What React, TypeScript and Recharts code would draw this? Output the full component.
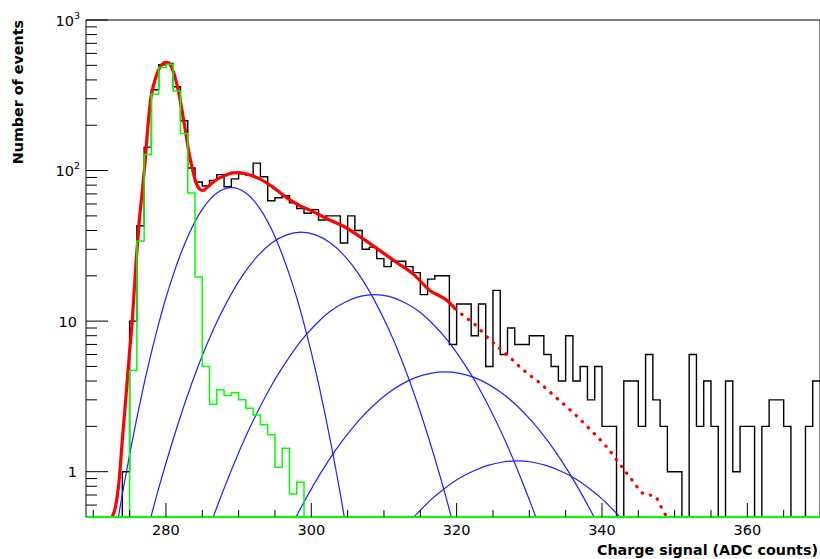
import React from "react";
import { LineChart, Line, XAxis, YAxis, ReferenceLine } from "recharts";

// binning: one ADC count per bin
const binLow = 269;
const binHigh = 370;
const yMin = 0.5;
const yMax = 1000;

// measured events per bin, bins 269..369
const dataCounts = [
  0, 0, 0, 0, 0, 1, 10, 43, 143, 344,
  504, 514, 360, 214, 104, 84, 79, 86, 94, 78,
  88, 95, 93, 112, 91, 63, 66, 68, 61, 56,
  52, 55, 47, 50, 50, 33, 50, 40, 30, 31,
  26, 23, 25, 25, 23, 21, 15, 19, 20, 20,
  7, 13, 13, 8, 13, 5, 16, 6, 9, 7,
  7, 8, 8, 6, 5, 4, 8, 4, 5, 3,
  5, 2, 2, 0, 4, 4, 2, 6, 3, 2,
  1, 1, 0, 6, 2, 4, 2, 0, 4, 1,
  2, 2, 0, 2, 3, 3, 2, 0, 0, 2,
  4,
];

// pedestal template, bins 269..298 (empty after)
const pedestalCounts = [
  0, 0, 0, 0, 0, 0, 4.7, 34, 128, 322,
  483, 509, 338, 176, 71, 19.6, 5.0, 2.8, 3.5, 3.2,
  3.35, 3.0, 2.64, 2.38, 2.05, 1.76, 1.07, 1.43, 0.71, 0.85,
];

// total fit, solid inside the fit range, dotted beyond it
const fitSolid: [number, number][] = [
  [272.6, 0.5], [273.1, 0.6], [273.56, 0.88], [274.0, 1.63], [274.5, 3.15],
  [274.94, 5.8], [275.4, 10.7], [275.9, 25], [276.3, 44.5], [276.8, 77.6],
  [277.1, 110], [277.5, 193], [277.9, 298], [278.4, 385], [278.85, 448],
  [279.5, 509], [280.0, 523], [280.45, 516], [280.9, 470], [281.4, 393],
  [281.8, 322], [282.3, 237], [282.75, 175], [283.2, 129], [283.7, 100],
  [284.1, 84], [284.6, 75.6], [285.05, 73.7], [285.5, 76], [286.4, 83],
  [287.3, 89], [288.2, 93], [289.2, 96.4], [290.1, 97], [291.0, 95],
  [292.9, 88], [294.7, 77.6], [296.5, 66.6], [298.4, 58.5], [300.2, 53.5],
  [302.3, 47.5], [304.5, 42.5], [307.1, 35.3], [309.4, 29.5], [311.7, 24.6],
  [314.0, 20.6], [316.3, 16], [318.6, 13.8], [319.8, 12.1],
];
const fitDotted: [number, number][] = [
  [319.8, 12.1], [320.9, 10.9], [322.3, 9.7], [324.6, 7.5], [326.9, 6.0],
  [329.2, 4.73], [331.5, 3.86], [333.8, 3.07], [336.1, 2.45], [338.4, 1.9],
  [340.6, 1.47], [342.9, 1.05], [344.3, 0.86], [345.6, 0.72], [346.5, 0.7],
  [347.3, 0.69], [348.0, 0.6], [349.1, 0.48], [349.8, 0.42],
];

// n photo-electron components
const pe1: [number, number][] = [
  [272, 0.19], [273, 0.37], [274, 0.71], [275, 1.3], [276, 2.28], [277, 3.84],
  [278, 6.2], [279, 9.6], [280, 14.3], [281, 20.3], [282, 27.7], [283, 36.4],
  [284, 45.8], [285, 55.2], [286, 63.8], [287, 70.9], [288, 75.4], [289, 77],
  [290, 75.4], [291, 70.9], [292, 63.8], [293, 55.2], [294, 45.8], [295, 36.4],
  [296, 27.7], [297, 20.3], [298, 14.3], [299, 9.6], [300, 6.2], [301, 3.84],
  [302, 2.28], [303, 1.3], [304, 0.71], [305, 0.37], [306, 0.19],
];
const pe2: [number, number][] = [
  [276.6, 0.28], [278.6, 0.66], [280.6, 1.42], [282.6, 2.85], [284.6, 5.27],
  [286.6, 8.96], [288.6, 14.0], [290.6, 20.3], [292.6, 27.0], [294.6, 33.1],
  [296.6, 37.4], [298.6, 39], [300.6, 37.4], [302.6, 33.1], [304.6, 27.0],
  [306.6, 20.3], [308.6, 14.0], [310.6, 8.96], [312.6, 5.27], [314.6, 2.85],
  [316.6, 1.42], [318.6, 0.66], [320.6, 0.28],
];
const pe3: [number, number][] = [
  [284.7, 0.28], [286.7, 0.53], [288.7, 0.94], [290.7, 1.6], [292.7, 2.55],
  [294.7, 3.87], [296.7, 5.5], [298.7, 7.5], [300.7, 9.6], [302.7, 11.7],
  [304.7, 13.4], [306.7, 14.6], [308.7, 15], [310.7, 14.6], [312.7, 13.4],
  [314.7, 11.7], [316.7, 9.6], [318.7, 7.5], [320.7, 5.5], [322.7, 3.87],
  [324.7, 2.55], [326.7, 1.6], [328.7, 0.94], [330.7, 0.53], [332.7, 0.28],
];
const pe4: [number, number][] = [
  [294.4, 0.22], [296.4, 0.357], [298.4, 0.556], [300.4, 0.83], [302.4, 1.19],
  [304.4, 1.63], [306.4, 2.15], [308.4, 2.71], [310.4, 3.28], [312.4, 3.8],
  [314.4, 4.23], [316.4, 4.5], [318.4, 4.6], [320.4, 4.5], [322.4, 4.23],
  [324.4, 3.8], [326.4, 3.28], [328.4, 2.71], [330.4, 2.15], [332.4, 1.63],
  [334.4, 1.19], [336.4, 0.83], [338.4, 0.556], [340.4, 0.357], [342.4, 0.22],
];
const pe5: [number, number][] = [
  [310.3, 0.3], [312.3, 0.4], [314.3, 0.51], [316.3, 0.64], [318.3, 0.77],
  [320.3, 0.9], [322.3, 1.01], [324.3, 1.1], [326.3, 1.16], [328.3, 1.18],
  [330.3, 1.16], [332.3, 1.1], [334.3, 1.01], [336.3, 0.9], [338.3, 0.77],
  [340.3, 0.64], [342.3, 0.51], [344.3, 0.4], [346.3, 0.3],
];

const xTicks = [270, 275, 280, 285, 290, 295, 300, 305, 310, 315, 320, 325, 330, 335, 340, 345, 350, 355, 360, 365];
const xLabels = [280, 300, 320, 340, 360];
const yTicks = [
  0.6, 0.7, 0.8, 0.9, 1, 2, 3, 4, 5, 6, 7, 8, 9, 10,
  20, 30, 40, 50, 60, 70, 80, 90, 100, 200, 300, 400, 500, 600, 700, 800, 900, 1000,
];
const yLabels = [1, 10, 100, 1000];

const FONT = "'DejaVu Sans', sans-serif";

function histPoints(counts: number[]) {
  const full = [...counts, ...new Array(binHigh - binLow - counts.length).fill(0)];
  const pts = full.map((c, i) => ({ x: binLow + i, y: c > 0 ? c : yMin }));
  pts.push({ x: binHigh, y: pts[pts.length - 1].y });
  return pts;
}

const toPoints = (arr: [number, number][]) => arr.map(([x, y]) => ({ x, y }));

const dataHist = histPoints(dataCounts);
const pedestalHist = histPoints(pedestalCounts);
const components = [pe1, pe2, pe3, pe4, pe5].map(toPoints);

function XTick(props: any) {
  const { x, y, payload } = props;
  const major = xLabels.includes(payload.value);
  return (
    <g>
      <line x1={x} x2={x} y1={y} y2={y - (major ? 14 : 7)} stroke="#000" strokeWidth={1} />
      {major && (
        <text x={x} y={y + 18} textAnchor="middle" fontSize={14.5} fontFamily={FONT} fill="#000">
          {payload.value}
        </text>
      )}
    </g>
  );
}

function YTick(props: any) {
  const { x, y, payload } = props;
  const v = payload.value;
  const major = yLabels.includes(v);
  let label: React.ReactNode = null;
  if (v === 1 || v === 10) {
    label = (
      <text x={x - 9} y={y + 5.5} textAnchor="end" fontSize={14.5} fontFamily={FONT} fill="#000">
        {v}
      </text>
    );
  } else if (major) {
    label = (
      <text x={x - 6} y={y + 5.5} textAnchor="end" fontFamily={FONT} fill="#000">
        <tspan fontSize={14.5}>10</tspan>
        <tspan fontSize={9.5} dy={-7}>{v === 100 ? "2" : "3"}</tspan>
      </text>
    );
  }
  return (
    <g>
      <line x1={x} x2={x + (major ? 22 : 11)} y1={y} y2={y} stroke="#000" strokeWidth={1} />
      {label}
    </g>
  );
}

export default function App() {
  return (
    <div style={{ position: "absolute", left: 0, top: 0, width: 820, height: 559, background: "#fff" }}>
      <LineChart width={820} height={559} margin={{ top: 20, right: 0, bottom: 12, left: 26 }}>
        <XAxis
          type="number"
          dataKey="x"
          domain={[binLow, binHigh]}
          allowDataOverflow
          ticks={xTicks}
          interval={0}
          tickSize={0}
          tickMargin={0}
          tick={XTick}
          axisLine={{ stroke: "#00ff00", strokeWidth: 2 }}
          tickLine={false}
          height={30}
        />
        <YAxis
          type="number"
          scale="log"
          dataKey="y"
          domain={[yMin, yMax]}
          allowDataOverflow
          ticks={yTicks}
          interval={0}
          tickSize={0}
          tickMargin={0}
          tick={YTick}
          axisLine={{ stroke: "#000", strokeWidth: 1 }}
          tickLine={false}
          width={60}
        />
        <ReferenceLine y={yMax} stroke="#000" strokeWidth={1} />
        <ReferenceLine x={binHigh} stroke="#000" strokeWidth={1} />

        <Line
          data={dataHist}
          dataKey="y"
          type="stepAfter"
          stroke="#000"
          strokeWidth={1.4}
          dot={false}
          activeDot={false}
          isAnimationActive={false}
        />
        {components.map((pts, i) => (
          <Line
            key={i}
            data={pts}
            dataKey="y"
            type="monotone"
            stroke="#1f1fff"
            strokeWidth={1.2}
            dot={false}
            activeDot={false}
            isAnimationActive={false}
          />
        ))}
        <Line
          data={toPoints(fitSolid)}
          dataKey="y"
          type="monotone"
          stroke="#ff0000"
          strokeWidth={3.2}
          dot={false}
          activeDot={false}
          isAnimationActive={false}
        />
        <Line
          data={toPoints(fitDotted)}
          dataKey="y"
          type="monotone"
          stroke="#ff0000"
          strokeWidth={3.2}
          strokeDasharray="0.5 8"
          strokeLinecap="round"
          dot={false}
          activeDot={false}
          isAnimationActive={false}
        />
        <Line
          data={pedestalHist}
          dataKey="y"
          type="stepAfter"
          stroke="#00ff00"
          strokeWidth={1.5}
          dot={false}
          activeDot={false}
          isAnimationActive={false}
        />
      </LineChart>
      <svg
        width={820}
        height={559}
        style={{ position: "absolute", left: 0, top: 0, pointerEvents: "none" }}
      >
        <text x={818} y={555} textAnchor="end" fontSize={14.3} fontWeight="bold" fontFamily={FONT} fill="#000">
          Charge signal (ADC counts)
        </text>
        <text
          transform="rotate(-90)"
          x={-20}
          y={22.5}
          textAnchor="end"
          fontSize={14.3}
          fontWeight="bold"
          fontFamily={FONT}
          fill="#000"
        >
          Number of events
        </text>
      </svg>
    </div>
  );
}
